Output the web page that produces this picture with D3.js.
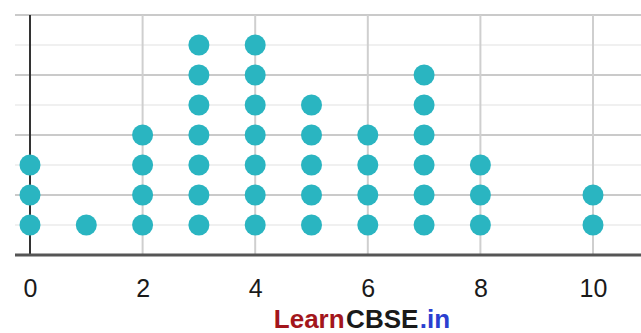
<!DOCTYPE html>
<html>
<head>
<meta charset="utf-8">
<script src="https://cdn.jsdelivr.net/npm/d3@7"></script>
<style>
html,body{margin:0;padding:0;background:#fff;}
svg{display:block;}
</style>
</head>
<body>
<svg id="chart" width="641" height="333"></svg>
<script>
const values = [0, 1, 2, 3, 4, 5, 6, 7, 8, 10];
const counts = [3, 1, 4, 7, 7, 5, 4, 6, 3, 2];
const xTicks = [0, 2, 4, 6, 8, 10];
const gridRows = [1, 2, 3, 4, 5, 6, 7, 8];
const watermarkParts = ["Learn", "CBSE", ".in"];

const svg = d3.select("#chart");
const x = d3.scaleLinear().domain([0, 10]).range([30, 593]);
const y = d3.scaleLinear().domain([0, 8]).range([255, 15]);

// horizontal gridlines
svg.append("g").selectAll("line").data(gridRows).join("line")
  .attr("x1", 15).attr("x2", 641)
  .attr("y1", d => y(d)).attr("y2", d => y(d))
  .attr("stroke", d => d % 2 === 0 ? "#b8b8b8" : "#e2e2e2")
  .attr("stroke-width", d => d % 2 === 0 ? 1.5 : 1.2);

// vertical gridlines
svg.append("g").selectAll("line").data(xTicks.filter(d => d !== 0)).join("line")
  .attr("x1", d => x(d)).attr("x2", d => x(d))
  .attr("y1", y(8)).attr("y2", y(0))
  .attr("stroke", "#cfcfcf").attr("stroke-width", 2);

// y axis line at 0
svg.append("line")
  .attr("x1", x(0)).attr("x2", x(0)).attr("y1", y(8)).attr("y2", y(0))
  .attr("stroke", "#333").attr("stroke-width", 2);

// x axis
const xAxis = d3.axisBottom(x).tickValues(xTicks).tickSize(0).tickPadding(24).tickFormat(d3.format("d"));
const gx = svg.append("g").attr("transform", `translate(0,${y(0)})`).call(xAxis);
gx.select(".domain").remove();
gx.selectAll("text").attr("font-family", "Liberation Sans, Arial, sans-serif")
  .attr("font-size", 25).attr("fill", "#1a1a1a");
svg.append("line").attr("x1", 15).attr("x2", 641).attr("y1", y(0)).attr("y2", y(0))
  .attr("stroke", "#555").attr("stroke-width", 3);

// dots
const dots = [];
values.forEach((v, i) => { for (let k = 1; k <= counts[i]; k++) dots.push({v, k}); });
svg.append("g").selectAll("circle").data(dots).join("circle")
  .attr("cx", d => x(d.v)).attr("cy", d => y(d.k))
  .attr("r", 10.5).attr("fill", "#2ab5c1");

// watermark (three separate pieces placed one after another)
const wmC = ["#a3161c", "#1a1a1a", "#2b3fd0"];
const wmTexts = svg.append("g").selectAll("text").data(watermarkParts).join("text")
  .attr("y", 328)
  .attr("font-family", "Liberation Sans Narrow, Liberation Sans, Arial, sans-serif")
  .attr("font-weight", "bold").attr("font-size", 26)
  .attr("fill", (d, i) => wmC[i])
  .text(d => d);
const widths = wmTexts.nodes().map(n => n.getComputedTextLength());
const total = d3.sum(widths) + 1.5 * (widths.length - 1);
let cur = 362 - total / 2;
wmTexts.each(function(d, i) { d3.select(this).attr("x", cur); cur += widths[i] + 1.5; });
</script>
</body>
</html>
